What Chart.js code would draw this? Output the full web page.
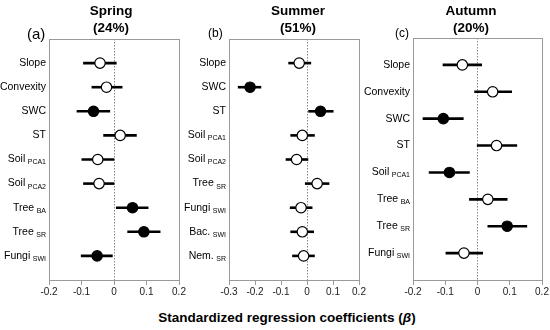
<!DOCTYPE html>
<html>
<head>
<meta charset="utf-8">
<script src="https://cdn.jsdelivr.net/npm/chart.js@4.4.0/dist/chart.umd.min.js"></script>
<style>
    body { margin: 0; background: #fff; font-family: "Liberation Sans", Arial, sans-serif; }
    #wrap { position: relative; width: 550px; height: 330px; overflow: hidden; }
    #wrap canvas { position: absolute; top: 0; }
    .txt { position: absolute; text-align: center; color: #000; white-space: nowrap; line-height: 1; }
    .ttl { font-weight: bold; font-size: 13.5px; width: 120px; }
    .tag { font-size: 12px; }
</style>
</head>
<body>
<div id="wrap">
    <canvas id="spring" width="190" height="300" style="left:0px"></canvas>
    <canvas id="summer" width="190" height="300" style="left:182px"></canvas>
    <canvas id="autumn" width="188" height="300" style="left:362px"></canvas>

    <div class="txt tag" style="left:27px; top:26px; font-size:15px;">(a)</div>
    <div class="txt tag" style="left:208px; top:27px;">(b)</div>
    <div class="txt tag" style="left:395px; top:27px;">(c)</div>

    <div class="txt ttl" style="left:51px; top:4px;">Spring</div>
    <div class="txt ttl" style="left:51px; top:21px;">(24%)</div>
    <div class="txt ttl" style="left:238px; top:4px;">Summer</div>
    <div class="txt ttl" style="left:238px; top:21px;">(51%)</div>
    <div class="txt ttl" style="left:411px; top:4px;">Autumn</div>
    <div class="txt ttl" style="left:411px; top:21px;">(20%)</div>

    <div class="txt" style="left:87px; width:400px; top:311px; font-weight:bold; font-size:13.5px;">Standardized regression coefficients (<i>β</i>)</div>
</div>

<script>
/*********************** Data ************************/
var springLabels = ['Slope', 'Convexity', 'SWC', 'ST', 'Soil', 'Soil', 'Tree', 'Tree', 'Fungi'];
var springSubs   = ['', '', '', '', 'PCA1', 'PCA2', 'BA', 'SR', 'SWI'];
var springEst    = [-0.043, -0.023, -0.063, 0.019, -0.050, -0.046, 0.057, 0.092, -0.052];
var springLow    = [-0.095, -0.069, -0.115, -0.033, -0.100, -0.095, 0.006, 0.041, -0.102];
var springHigh   = [0.008, 0.026, -0.012, 0.070, 0.001, 0.001, 0.106, 0.143, -0.004];
var springSig    = [0, 0, 1, 0, 0, 0, 1, 1, 1];
var springTicks  = [-0.2, -0.1, 0, 0.1, 0.2];

var summerLabels = ['Slope', 'SWC', 'ST', 'Soil', 'Soil', 'Tree', 'Fungi', 'Bac.', 'Nem.'];
var summerSubs   = ['', '', '', 'PCA1', 'PCA2', 'SR', 'SWI', 'SWI', 'SR'];
var summerEst    = [-0.030, -0.219, 0.052, -0.018, -0.040, 0.039, -0.023, -0.018, -0.013];
var summerLow    = [-0.072, -0.266, 0.005, -0.064, -0.082, -0.008, -0.066, -0.064, -0.057];
var summerHigh   = [0.016, -0.176, 0.102, 0.030, 0.005, 0.086, 0.021, 0.027, 0.030];
var summerSig    = [0, 1, 1, 0, 0, 0, 0, 0, 0];
var summerTicks  = [-0.3, -0.2, -0.1, 0, 0.1, 0.2];

var autumnLabels = ['Slope', 'Convexity', 'SWC', 'ST', 'Soil', 'Tree', 'Tree', 'Fungi'];
var autumnSubs   = ['', '', '', '', 'PCA1', 'BA', 'SR', 'SWI'];
var autumnEst    = [-0.047, 0.047, -0.106, 0.059, -0.087, 0.032, 0.092, -0.042];
var autumnLow    = [-0.108, -0.010, -0.170, -0.002, -0.151, -0.026, 0.031, -0.099];
var autumnHigh   = [0.014, 0.107, -0.043, 0.123, -0.024, 0.093, 0.154, 0.017];
var autumnSig    = [0, 0, 1, 0, 1, 0, 1, 0];
var autumnTicks  = [-0.2, -0.1, 0, 0.1, 0.2];

var FONT = '"Liberation Sans", Arial, sans-serif';

/*********************** Box + row labels ************************/
var panelDeco = {
    id: 'panelDeco',
    beforeDatasetsDraw: function (chart, args, opts) {
        var ctx = chart.ctx, a = chart.chartArea, y = chart.scales.y;
        ctx.save();
        ctx.strokeStyle = '#9a9a9a';
        ctx.lineWidth = 1;
        ctx.strokeRect(Math.round(a.left) + 0.5, Math.round(a.top) + 0.5,
            Math.round(a.right - a.left), Math.round(a.bottom - a.top));

        ctx.fillStyle = '#000';
        ctx.textBaseline = 'middle';
        ctx.textAlign = 'left';
        opts.labels.forEach(function (lab, i) {
            var py = y.getPixelForValue(i + 1);
            var sub = opts.subs[i];
            ctx.font = '10.5px ' + FONT;
            var w1 = ctx.measureText(lab).width;
            ctx.font = '7px ' + FONT;
            var w2 = sub ? ctx.measureText(sub).width + 2.5 : 0;
            var x0 = a.left - 3 - w1 - w2;
            ctx.font = '10.5px ' + FONT;
            ctx.fillText(lab, x0, py);
            if (sub) {
                ctx.font = '7px ' + FONT;
                ctx.fillText(sub, x0 + w1 + 2.5, py + 3);
            }
        });
        ctx.restore();
    }
};

function makePanel(id, labels, subs, est, low, high, sig, ticks, pad) {
    var n = labels.length;
    var datasets = [{
        data: est.map(function (v, i) { return { x: v, y: i + 1 }; }),
        pointRadius: 5.2,
        pointBorderWidth: 1.2,
        pointBorderColor: '#000',
        pointBackgroundColor: sig.map(function (s) { return s ? '#000' : '#fff'; }),
        showLine: false
    }];
    // one short line per confidence interval
    est.forEach(function (v, i) {
        datasets.push({
            data: [{ x: low[i], y: i + 1 }, { x: high[i], y: i + 1 }],
            showLine: true,
            borderColor: '#000',
            borderWidth: 2.6,
            pointRadius: 0
        });
    });

    return new Chart(document.getElementById(id), {
        type: 'scatter',
        data: { datasets: datasets },
        plugins: [panelDeco],
        options: {
            responsive: false,
            animation: false,
            events: [],
            layout: { padding: pad },
            plugins: {
                legend: { display: false },
                tooltip: { enabled: false },
                panelDeco: { labels: labels, subs: subs }
            },
            scales: {
                y: { type: 'linear', min: 0, max: n + 1, reverse: true, display: false },
                x: {
                    type: 'linear',
                    min: ticks[0],
                    max: ticks[ticks.length - 1],
                    afterBuildTicks: function (scale) {
                        scale.ticks = ticks.map(function (v) { return { value: v }; });
                    },
                    afterFit: function (scale) { scale.height = 20; },
                    ticks: {
                        font: { family: FONT, size: 10 },
                        color: '#222',
                        padding: 1,
                        maxRotation: 0,
                        autoSkip: false,
                        callback: function (v) { return v === 0 ? '0' : v.toFixed(1); }
                    },
                    grid: {
                        drawOnChartArea: true,
                        color: function (c) {
                            return c.tick && Math.abs(c.tick.value) < 1e-9 ? '#888' : 'rgba(0,0,0,0)';
                        },
                        lineWidth: 1,
                        tickLength: 5,
                        tickColor: '#9a9a9a',
                        tickWidth: 1
                    },
                    border: { display: false, dash: [1.5, 1.5] }
                }
            }
        }
    });
}

makePanel('spring', springLabels, springSubs, springEst, springLow, springHigh, springSig, springTicks,
    { left: 49, right: 11, top: 39, bottom: 0 });
makePanel('summer', summerLabels, summerSubs, summerEst, summerLow, summerHigh, summerSig, summerTicks,
    { left: 47, right: 13, top: 39, bottom: 0 });
makePanel('autumn', autumnLabels, autumnSubs, autumnEst, autumnLow, autumnHigh, autumnSig, autumnTicks,
    { left: 51, right: 8, top: 38, bottom: 0 });
</script>
</body>
</html>
